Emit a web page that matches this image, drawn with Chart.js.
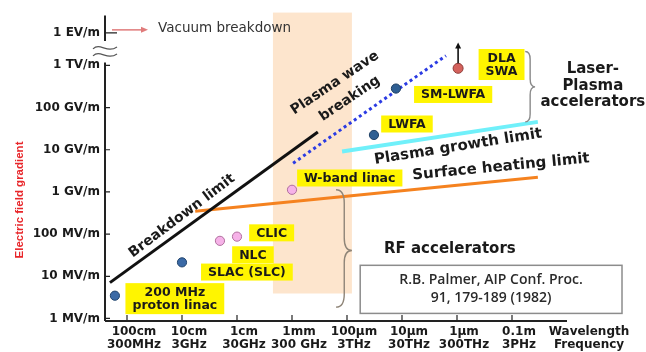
<!DOCTYPE html>
<html>
<head>
<meta charset="utf-8">
<script src="https://cdn.jsdelivr.net/npm/chart.js@4.4.1/dist/chart.umd.min.js"></script>
<style>
  html, body { margin: 0; padding: 0; background: #fff; }
  canvas { display: block; }
</style>
</head>
<body>
<canvas id="c" width="646" height="352"></canvas>
<script>
// x: decades of wavelength (0 = 1 m / 300 MHz), y: log10 of gradient in V/m
const wavelengthLabels = ['100cm', '10cm', '1cm', '1mm', '100\u00b5m', '10\u00b5m', '1\u00b5m', '0.1m'];
const frequencyLabels  = ['300MHz', '3GHz', '30GHz', '300 GHz', '3THz', '30THz', '300THz', '3PHz'];
const gradientTicks  = [6, 7, 8, 9, 10, 11, 12];
const gradientLabels = ['1 MV/m', '10 MV/m', '100 MV/m', '1 GV/m', '10 GV/m', '100 GV/m', '1 TV/m'];
const vacuumTick  = 12.77;          // 1 EV/m, shown above the axis break
const vacuumLabel = '1 EV/m';

// accelerators
const accelNames = ['200 MHz proton linac', 'SLAC (SLC)', 'NLC', 'CLIC', 'W-band linac', 'LWFA', 'SM-LWFA', 'DLA/SWA'];
const accelX     = [-0.22, 1.00, 1.69, 2.00, 3.00, 4.49, 4.89, 6.02];
const accelY     = [6.54, 7.33, 7.84, 7.94, 9.05, 10.35, 11.45, 11.93];
const accelKind  = ['rf', 'rf', 'rfx', 'rfx', 'rfx', 'plasma', 'plasma', 'laser'];

// limits
const breakdownX = [-0.31, 3.47], breakdownY = [6.85, 10.42];
const waveBreakX = [3.02, 5.80],  waveBreakY = [9.68, 12.23];
const growthX    = [3.91, 7.47],  growthY    = [9.96, 10.66];
const heatingX   = [1.24, 7.47],  heatingY   = [8.54, 9.35];

// terahertz gap band
const bandX = [2.65, 4.09], bandY = [6.59, 13.26];

const pairs = (xs, ys) => xs.map((x, i) => ({ x, y: ys[i] }));

const kindFill   = { rf: '#3b6aa6', plasma: '#2f5f93', rfx: '#f6b2e8', laser: '#d4625d' };
const kindBorder = { rf: '#21446d', plasma: '#1d3e63', rfx: '#b06f9e', laser: '#8e3b37' };

const BOLD = '"DejaVu Sans", sans-serif';

// yellow name tags
const tags = [
  { lines: ['200 MHz', 'proton linac'], x: 0.87, y: 6.47 },
  { lines: ['NLC'], x: 2.29, y: 7.51 },
  { lines: ['SLAC (SLC)'], x: 2.18, y: 7.10 },
  { lines: ['CLIC'], x: 2.63, y: 8.03 },
  { lines: ['W-band linac'], x: 4.05, y: 9.33 },
  { lines: ['LWFA'], x: 5.09, y: 10.61 },
  { lines: ['SM-LWFA'], x: 5.93, y: 11.31 },
  { lines: ['DLA', 'SWA'], x: 6.81, y: 12.02 }
];

// free text
const notes = [
  { text: 'Breakdown limit', x: 1.00, y: 8.43, angle: -37, size: 14 },
  { text: 'Plasma wave', x: 3.78, y: 11.58, angle: -34, size: 14 },
  { text: 'breaking', x: 4.05, y: 11.21, angle: -34, size: 14 },
  { text: 'Plasma growth limit', x: 6.02, y: 10.07, angle: -9, size: 15 },
  { text: 'Surface heating limit', x: 6.80, y: 9.59, angle: -5.5, size: 15 },
  { text: 'RF accelerators', x: 5.87, y: 7.64, angle: 0, size: 15 },
  { text: 'Laser-', x: 8.47, y: 11.90, angle: 0, size: 15 },
  { text: 'Plasma', x: 8.47, y: 11.51, angle: 0, size: 15 },
  { text: 'accelerators', x: 8.47, y: 11.12, angle: 0, size: 15 }
];

function brace(ctx, xEnd, xMid, xTip, yTop, yTip, yBot) {
  const r = xMid - xEnd;
  const t = xTip - xMid;
  ctx.beginPath();
  ctx.moveTo(xEnd, yTop);
  ctx.quadraticCurveTo(xMid, yTop, xMid, yTop + r * 1.6);
  ctx.lineTo(xMid, yTip - t * 1.6);
  ctx.quadraticCurveTo(xMid, yTip, xTip, yTip);
  ctx.quadraticCurveTo(xMid, yTip, xMid, yTip + t * 1.6);
  ctx.lineTo(xMid, yBot - r * 1.6);
  ctx.quadraticCurveTo(xMid, yBot, xEnd, yBot);
  ctx.stroke();
}

const decorations = {
  id: 'decorations',
  afterDatasetsDraw(chart) {
    const ctx = chart.ctx;
    const xs = chart.scales.x, ys = chart.scales.y;
    const X = v => xs.getPixelForValue(v);
    const Y = v => ys.getPixelForValue(v);
    const area = chart.chartArea;

    ctx.save();

    // name tags
    ctx.font = 'bold 12.5px ' + BOLD;
    ctx.textAlign = 'center';
    ctx.textBaseline = 'middle';
    tags.forEach(t => {
      const w = Math.max(...t.lines.map(s => ctx.measureText(s).width)) + 14;
      const h = t.lines.length === 1 ? 17 : 31;
      const cx = X(t.x), cy = Y(t.y);
      ctx.fillStyle = '#fff500';
      ctx.fillRect(cx - w / 2, cy - h / 2, w, h);
      ctx.fillStyle = '#1a1a1a';
      t.lines.forEach((s, i) => {
        ctx.fillText(s, cx, cy + (i - (t.lines.length - 1) / 2) * 13.5 + 0.5);
      });
    });

    // free text
    notes.forEach(n => {
      ctx.save();
      ctx.translate(X(n.x), Y(n.y));
      ctx.rotate(n.angle * Math.PI / 180);
      ctx.font = 'bold ' + n.size + 'px ' + BOLD;
      ctx.fillStyle = '#1a1a1a';
      ctx.textAlign = 'center';
      ctx.textBaseline = 'middle';
      ctx.fillText(n.text, 0, 0);
      ctx.restore();
    });

    // braces
    ctx.strokeStyle = '#8f8578';
    ctx.lineWidth = 1.4;
    brace(ctx, X(3.80), X(3.95), X(4.09), Y(9.05), Y(7.61), Y(6.27));
    ctx.strokeStyle = '#8a8a8a';
    brace(ctx, X(7.24), X(7.33), X(7.42), Y(12.33), Y(11.49), Y(10.66));

    // reference box
    const bx0 = X(4.24), bx1 = X(9.0), by0 = Y(7.26), by1 = Y(6.12);
    ctx.fillStyle = '#fff';
    ctx.fillRect(bx0, by0, bx1 - bx0, by1 - by0);
    ctx.strokeStyle = '#8c8c8c';
    ctx.lineWidth = 1.5;
    ctx.strokeRect(bx0, by0, bx1 - bx0, by1 - by0);
    ctx.fillStyle = '#2a2a2a';
    ctx.font = '600 14px "Open Sans", sans-serif';
    ctx.textAlign = 'center';
    ctx.fillText('R.B. Palmer, AIP Conf. Proc.', (bx0 + bx1) / 2, (by0 + by1) / 2 - 9);
    ctx.fillText('91, 179-189 (1982)', (bx0 + bx1) / 2, (by0 + by1) / 2 + 9);

    // arrow above the laser-driven point
    const ax = X(accelX[7]);
    const ay0 = Y(accelY[7]) - 5, ay1 = Y(12.54);
    ctx.strokeStyle = '#111';
    ctx.fillStyle = '#111';
    ctx.lineWidth = 1.6;
    ctx.beginPath();
    ctx.moveTo(ax, ay0);
    ctx.lineTo(ax, ay1 + 5);
    ctx.stroke();
    ctx.beginPath();
    ctx.moveTo(ax, ay1);
    ctx.lineTo(ax - 3, ay1 + 6);
    ctx.lineTo(ax + 3, ay1 + 6);
    ctx.closePath();
    ctx.fill();

    // axes
    const left = area.left, bottom = area.bottom;
    ctx.strokeStyle = '#222';
    ctx.lineWidth = 2;
    ctx.beginPath();
    ctx.moveTo(left, bottom);
    ctx.lineTo(X(8.0), bottom);
    ctx.moveTo(left, bottom);
    ctx.lineTo(left, Y(12.07));
    ctx.moveTo(left, Y(12.58));
    ctx.lineTo(left, Y(13.18));
    ctx.stroke();

    ctx.lineWidth = 1.2;
    ctx.beginPath();
    gradientTicks.forEach(v => {
      ctx.moveTo(left, Y(v));
      ctx.lineTo(left + 5, Y(v));
    });
    ctx.moveTo(left, Y(vacuumTick));
    ctx.lineTo(left + 12, Y(vacuumTick));
    wavelengthLabels.forEach((_, i) => {
      ctx.moveTo(X(i), bottom);
      ctx.lineTo(X(i), bottom - 6);
    });
    ctx.stroke();

    // axis break
    ctx.strokeStyle = '#555';
    ctx.lineWidth = 1.2;
    const by = Y(12.33);
    [-3.5, 3.5].forEach(d => {
      ctx.beginPath();
      ctx.moveTo(left - 12, by + d + 1);
      ctx.bezierCurveTo(left - 5, by + d - 6, left + 2, by + d + 6, left + 12, by + d - 1);
      ctx.stroke();
    });

    // vacuum breakdown marker
    const vy = Y(vacuumTick) - 3;
    ctx.strokeStyle = '#e07b7b';
    ctx.fillStyle = '#e07b7b';
    ctx.lineWidth = 1.5;
    ctx.beginPath();
    ctx.moveTo(left + 7, vy);
    ctx.lineTo(left + 38, vy);
    ctx.stroke();
    ctx.beginPath();
    ctx.moveTo(left + 43, vy);
    ctx.lineTo(left + 36, vy - 3);
    ctx.lineTo(left + 36, vy + 3);
    ctx.closePath();
    ctx.fill();
    ctx.fillStyle = '#333';
    ctx.font = '13.5px ' + BOLD;
    ctx.textAlign = 'left';
    ctx.textBaseline = 'middle';
    ctx.fillText('Vacuum breakdown', left + 53, vy - 1);

    // axis captions
    ctx.fillStyle = '#1a1a1a';
    ctx.font = 'bold 12px ' + BOLD;
    ctx.textAlign = 'center';
    ctx.fillText('Wavelength', X(8.4), bottom + 10.6);
    ctx.fillText('Frequency', X(8.4), bottom + 23.8);

    ctx.save();
    ctx.translate(20, 200);
    ctx.rotate(-Math.PI / 2);
    ctx.fillStyle = '#e8262a';
    ctx.font = 'bold 11.5px "Liberation Sans", Arial, sans-serif';
    ctx.fillText('Electric field gradient', 0, 0);
    ctx.restore();

    ctx.restore();
  }
};

const lineSet = (xs, ys, color, width, dash) => ({
  data: pairs(xs, ys),
  showLine: true,
  borderColor: color,
  borderWidth: width,
  borderDash: dash || [],
  pointRadius: 0,
  fill: false,
  order: 5
});

new Chart(document.getElementById('c'), {
  type: 'scatter',
  data: {
    datasets: [
      {
        data: pairs(bandX, [bandY[1], bandY[1]]),
        showLine: true,
        borderWidth: 0,
        pointRadius: 0,
        backgroundColor: '#fde5cd',
        fill: { value: bandY[0] },
        order: 10
      },
      lineSet(breakdownX, breakdownY, '#111111', 3),
      lineSet(waveBreakX, waveBreakY, '#2b3be3', 3, [3, 3.2]),
      lineSet(growthX, growthY, '#70f0fa', 4),
      lineSet(heatingX, heatingY, '#f5821f', 3),
      {
        data: pairs(accelX, accelY),
        showLine: false,
        pointRadius: accelKind.map(k => (k === 'laser' ? 5 : 4.6)),
        pointBackgroundColor: accelKind.map(k => kindFill[k]),
        pointBorderColor: accelKind.map(k => kindBorder[k]),
        pointBorderWidth: 1,
        order: 0
      }
    ]
  },
  options: {
    responsive: false,
    animation: false,
    devicePixelRatio: 1,
    layout: { padding: { top: 6, right: 79, left: 0, bottom: 0 } },
    plugins: { legend: { display: false }, tooltip: { enabled: false } },
    scales: {
      x: {
        type: 'linear',
        min: -0.4,
        max: 8.0,
        grid: { display: false, drawTicks: false, tickLength: 0 },
        border: { display: false },
        afterBuildTicks: s => { s.ticks = wavelengthLabels.map((_, i) => ({ value: i })); },
        afterFit: s => { s.height = 31; },
        ticks: {
          autoSkip: false,
          maxRotation: 0,
          padding: 4,
          labelOffset: 7,
          color: '#1a1a1a',
          font: { family: BOLD, size: 12, weight: 'bold', lineHeight: 1.1 },
          callback: (v, i) => [wavelengthLabels[i], frequencyLabels[i]]
        }
      },
      y: {
        type: 'linear',
        min: 5.94,
        max: 13.26,
        grid: { display: false, drawTicks: false, tickLength: 0 },
        border: { display: false },
        afterBuildTicks: s => {
          s.ticks = gradientTicks.map(v => ({ value: v })).concat([{ value: vacuumTick }]);
        },
        afterFit: s => { s.width = 105; },
        ticks: {
          autoSkip: false,
          padding: 5,
          color: '#1a1a1a',
          font: { family: BOLD, size: 12, weight: 'bold' },
          callback: (v, i) => (i < gradientLabels.length ? gradientLabels[i] : vacuumLabel)
        }
      }
    }
  },
  plugins: [decorations]
});
</script>
</body>
</html>
